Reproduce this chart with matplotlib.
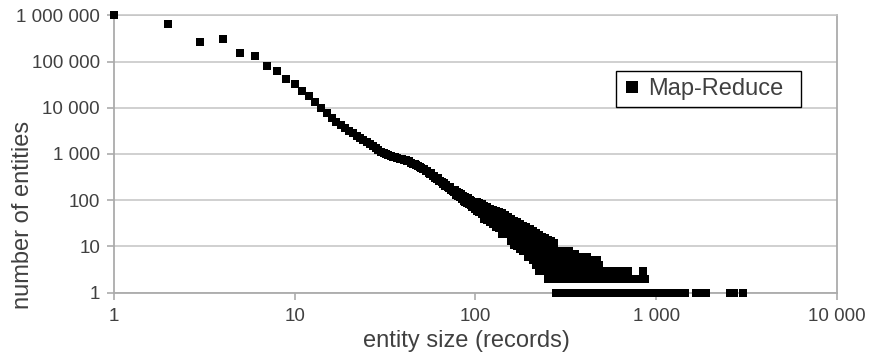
import matplotlib
matplotlib.use("Agg")
import matplotlib.pyplot as plt

# ─── DATA ──────────────────────────────────────────────────────────────────────
# entity sizes 1..100, one point per size
head_x = list(range(1, 101))
head_y = [
    1000000, 660000, 265000, 310000, 156000, 134000, 79000, 63000, 42000, 32000,
    23000, 17800, 13000, 9800, 7800, 6100, 5000, 4200, 3600, 3150,
    2800, 2500, 2240, 2000, 1820, 1620, 1480, 1350, 1230, 1120,
    1050, 990, 950, 910, 880, 850, 820, 790, 770, 740,
    730, 690, 700, 650, 620, 610, 580, 560, 530, 505,
    470, 480, 430, 420, 390, 370, 380, 340, 330, 310,
    290, 300, 265, 260, 250, 230, 240, 205, 210, 195,
    180, 190, 165, 170, 160, 150, 165, 130, 150, 125,
    140, 118, 135, 108, 125, 95, 118, 90, 112, 85,
    110, 82, 100, 78, 96, 72, 92, 70, 86, 66,
]

# sizes 100..272: several entity counts per size
band_x = [102, 105, 108, 112, 116, 120, 125, 130, 135, 140, 146, 152, 158,
          164, 170, 177, 184, 191, 194, 199, 207, 215, 224, 233, 242, 252, 262, 272]
band_counts = [
    [92, 74, 58], [88, 70, 55], [82, 65, 50], [76, 60, 46, 40],
    [72, 56, 44, 37], [66, 52, 41, 34], [62, 48, 38, 30], [58, 45, 35, 27],
    [55, 42, 32, 25], [52, 40, 30, 22, 19], [48, 37, 28, 20], [44, 34, 26, 19],
    [40, 31, 24, 17, 13], [36, 28, 21, 15, 11], [33, 25, 19, 14, 10],
    [30, 23, 17, 12, 9], [28, 21, 15, 11, 8], [26, 19, 14, 10, 8], [6],
    [24, 17, 13, 9, 7], [22, 16, 12, 8, 6, 5], [20, 15, 11, 7, 5, 4],
    [18, 13, 10, 7, 5, 4, 3], [16, 12, 9, 7, 5, 4, 3], [15, 11, 8, 6, 5, 4, 3],
    [14, 10, 8, 6, 5, 4, 3, 2], [13, 10, 7, 6, 5, 4, 3, 2],
    [12, 9, 7, 6, 5, 4, 3, 2],
]

# tail: sizes that occur only a handful of times
tail_x_8 = [280, 292, 305, 318, 330]
tail_x_7 = [280, 295, 310, 325, 340, 355]
tail_x_6 = [280, 295, 310, 326, 342, 358, 375, 393, 412]
tail_x_5 = [285, 300, 316, 332, 349, 366, 385, 405, 425, 447, 468]
tail_x_4 = [280, 295, 310, 326, 342, 360, 378, 397, 417, 438, 460, 480]
tail_x_3 = [280, 295, 310, 326, 342, 360, 378, 397, 417, 438, 460, 483, 507,
            533, 560, 588, 617, 648, 680, 700, 849]
tail_x_2 = [280, 295, 310, 326, 342, 360, 378, 397, 417, 438, 460, 483, 507,
            533, 560, 588, 617, 648, 680, 714, 750, 788, 827, 865]
tail_x_1 = [278, 292, 307, 322, 338, 355, 373, 392, 411, 432, 453, 476, 500,
            525, 551, 579, 608, 638, 670, 703, 738, 775, 814, 855, 898, 943,
            990, 1040, 1092, 1146, 1203, 1263, 1326, 1392, 1440,
            1665, 1750, 1840, 1890, 2550, 2690, 3010]

Y_TICKS = [1, 10, 100, 1000, 10000, 100000, 1000000]
Y_LABELS = ["1", "10", "100", "1 000", "10 000", "100 000", "1 000 000"]
X_TICKS = [1, 10, 100, 1000, 10000]
X_LABELS = ["1", "10", "100", "1 000", "10 000"]
SERIES = "Map-Reduce"
# ────────────────────────────────────────────────────────────────────────────────

TEXT = "#404040"
GRID = "#c4c4c4"
AXIS = "#ababab"

plt.rcParams["font.family"] = ["Liberation Sans", "DejaVu Sans"]

xs = list(head_x)
ys = list(head_y)
for x, counts in zip(band_x, band_counts):
    for c in counts:
        xs.append(x)
        ys.append(c)
for level, row in [(8, tail_x_8), (7, tail_x_7), (6, tail_x_6), (5, tail_x_5),
                   (4, tail_x_4), (3, tail_x_3), (2, tail_x_2), (1, tail_x_1)]:
    xs.extend(row)
    ys.extend([level] * len(row))

fig = plt.figure(figsize=(8.7, 3.59), dpi=100)
ax = fig.add_axes([114 / 870, 1 - 292.7 / 359, 723 / 870, 277.4 / 359])

ax.plot(xs, ys, ls="none", marker="s", ms=5.4, mfc="black", mec="black",
        mew=0, color="black", label=SERIES, clip_on=False, zorder=3)

ax.set_xscale("log")
ax.set_yscale("log")
ax.set_xlim(1, 10000)
ax.set_ylim(1, 1000000)
ax.minorticks_off()
ax.set_xticks(X_TICKS)
ax.set_xticklabels(X_LABELS)
ax.set_yticks(Y_TICKS)
ax.set_yticklabels(Y_LABELS)

ax.grid(axis="y", color=GRID, lw=1.1, zorder=0)
ax.set_axisbelow(True)
for side in ("left", "bottom", "right"):
    ax.spines[side].set_color(AXIS)
    ax.spines[side].set_linewidth(1.3)
ax.spines["top"].set_color(GRID)
ax.spines["top"].set_linewidth(1.1)

ax.tick_params(axis="both", which="major", colors=AXIS, labelcolor=TEXT,
               labelsize=13.5, length=5, width=1.2, direction="out")
ax.tick_params(axis="y", pad=5)
ax.tick_params(axis="x", pad=6)

ax.set_xlabel("entity size (records)", fontsize=17, color=TEXT)
ax.set_ylabel("number of entities", fontsize=17, color=TEXT)
ax.xaxis.set_label_coords(0.487, -0.135)
ax.yaxis.set_label_coords(-0.11, 0.28)
ax.xaxis.label.set_va("top")

leg = ax.legend(loc="upper left", bbox_to_anchor=(0.694, 0.665, 0.256, 0.135),
                mode="expand", borderaxespad=0, fontsize=17, markerscale=1.7,
                frameon=True, fancybox=False, framealpha=1,
                edgecolor="black", borderpad=0.3, handlelength=0.8,
                handletextpad=0.25, labelcolor=TEXT)
leg.get_frame().set_linewidth(1.0)

fig.savefig("out.png", dpi=100)
